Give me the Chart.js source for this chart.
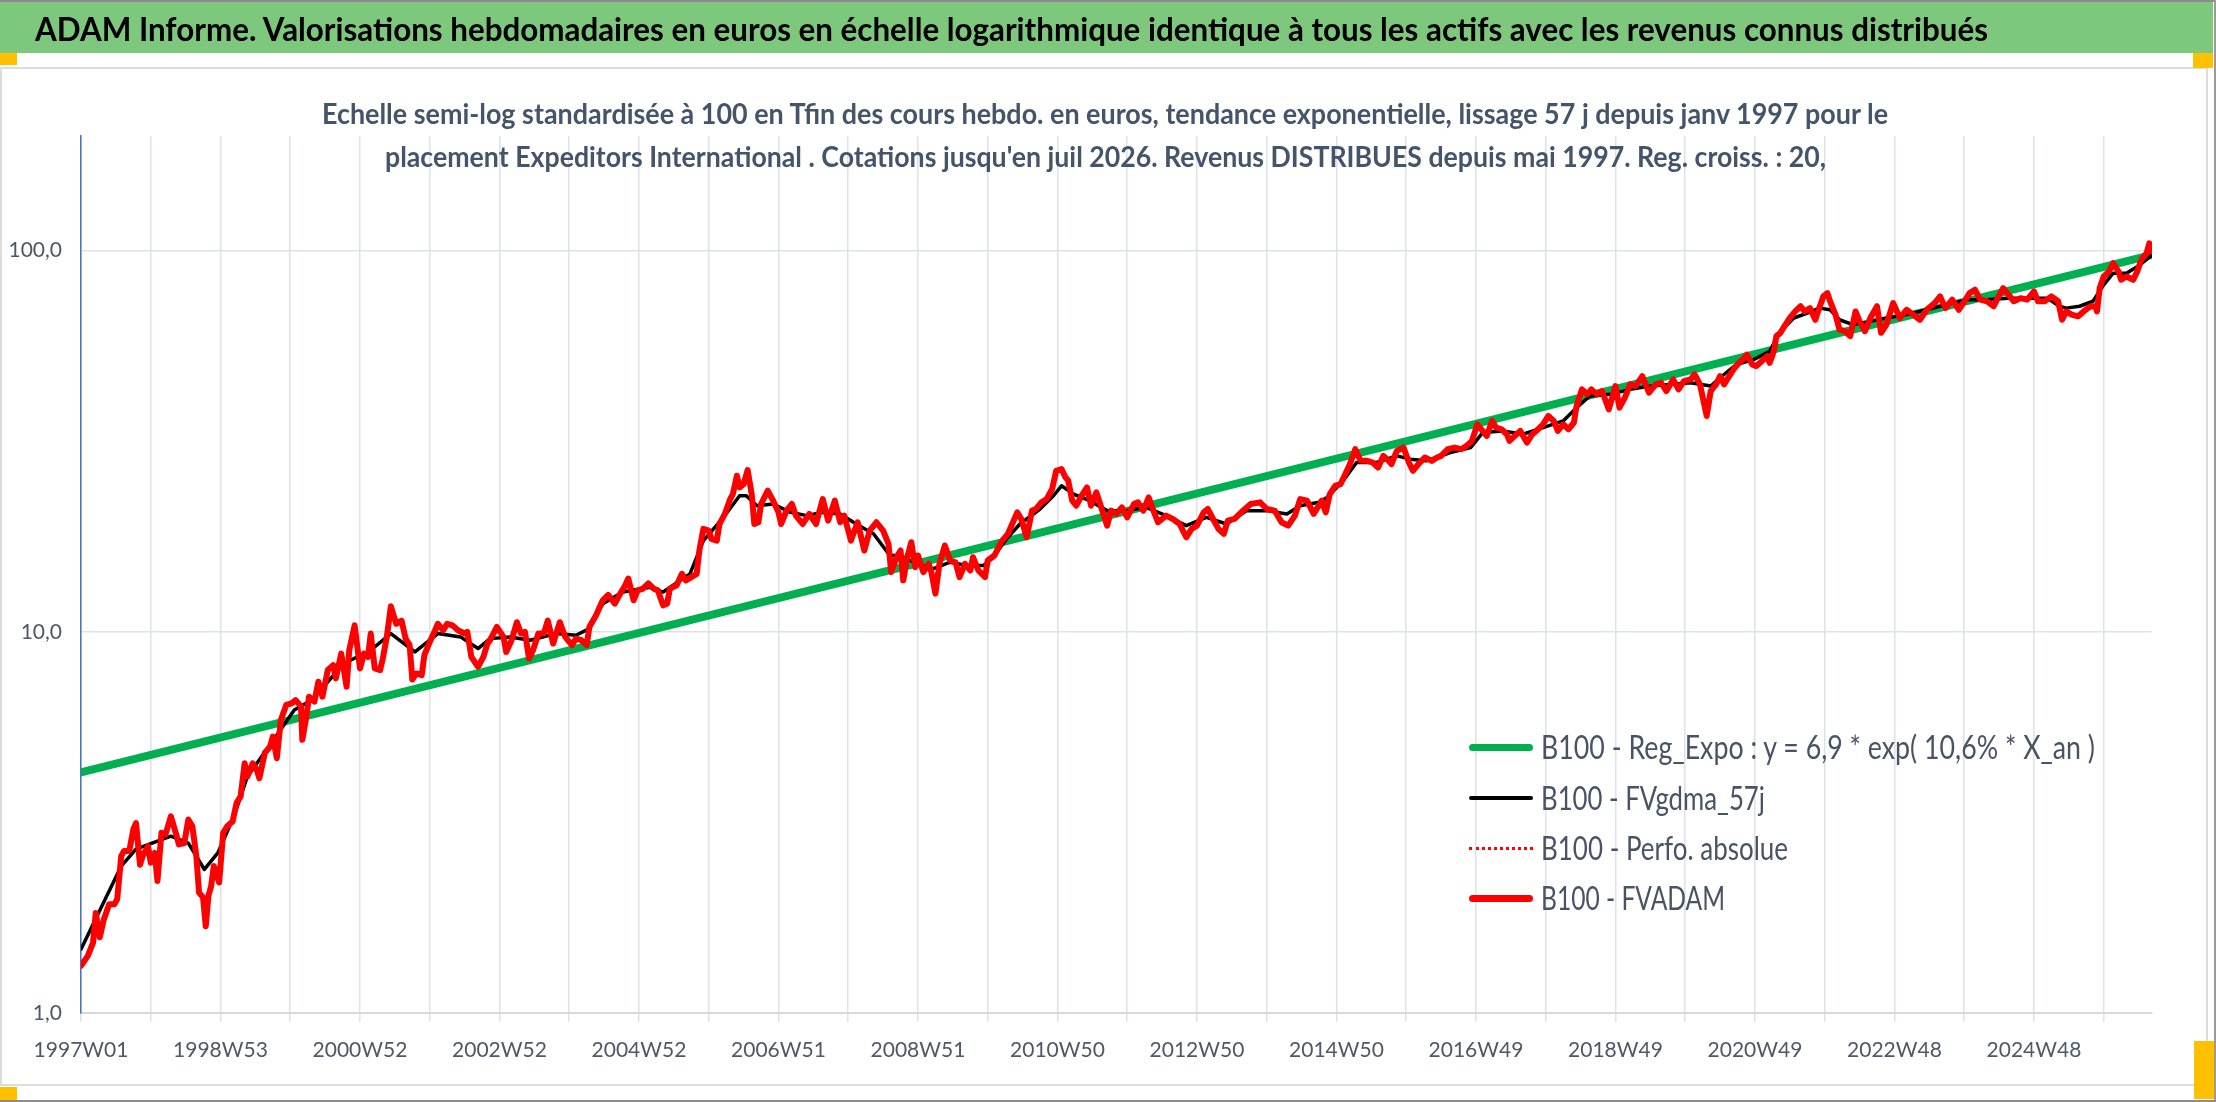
<!DOCTYPE html>
<html><head><meta charset="utf-8">
<script src="https://cdn.jsdelivr.net/npm/chart.js@4.4.1/dist/chart.umd.min.js"></script>
<style>
html,body{margin:0;padding:0;background:#fff;}
#page{position:relative;width:2216px;height:1102px;overflow:hidden;background:#fff;font-family:Lato,'Open Sans',sans-serif;}
.abs{position:absolute;}
#band{left:0;top:2px;width:2213px;height:51px;background:#7ec87e;}
#frame{left:0;top:67px;width:2208px;height:1019px;border:2px solid #dcdcdc;box-sizing:border-box;}
.fit{position:absolute;white-space:nowrap;transform-origin:left center;line-height:1;}
#title{font-weight:700;font-size:33px;color:#000;}
.sub{font-weight:700;font-size:29px;color:#44546a;}
.leg{font-size:32px;color:#485365;}
.sample{position:absolute;left:1469px;width:64px;}
.orange{position:absolute;background:#ffc000;}
canvas{position:absolute;left:0;top:0;}
</style></head>
<body>
<div id="page">
  <div class="abs" style="left:0;top:0;width:2216px;height:2px;background:#8c8c8c"></div>
  <div id="band" class="abs"></div>
  <div id="frame" class="abs"></div>
  <div class="abs" style="left:2214px;top:0;width:2px;height:1102px;background:#9a9a9a"></div>
  <div class="abs" style="left:0;top:1100px;width:2216px;height:2px;background:#8c8c8c"></div>
  <div class="orange" style="left:0;top:53px;width:17px;height:12px"></div>
  <div class="orange" style="left:2193px;top:53px;width:20px;height:15px"></div>
  <div class="orange" style="left:0;top:1087px;width:17px;height:13px"></div>
  <div class="orange" style="left:2194px;top:1041px;width:20px;height:58px"></div>
  <canvas id="c" width="2216" height="1102"></canvas>
  <span id="title" class="fit" data-l="35" data-w="1953" data-y="28">ADAM Informe. Valorisations hebdomadaires en euros en échelle logarithmique identique à tous les actifs avec les revenus connus distribués</span>
  <span class="fit sub" data-l="322" data-w="1566" data-y="112">Echelle semi-log standardisée à 100 en Tfin des cours hebdo. en euros, tendance exponentielle, lissage 57 j depuis janv 1997 pour le</span>
  <span class="fit sub" data-l="385" data-w="1441" data-y="155">placement Expeditors International . Cotations jusqu'en juil 2026. Revenus DISTRIBUES depuis mai 1997. Reg. croiss. : 20,</span>
  <div id="legend"></div>
</div>
<script>
// ---- data ----
const seriesNames = [
  "B100 - Reg_Expo : y = 6,9 * exp( 10,6% *  X_an )",
  "B100 - FVgdma_57j",
  "B100 - Perfo. absolue",
  "B100 - FVADAM"
];
const xTickLabels = ["1997W01","1998W53","2000W52","2002W52","2004W52","2006W51","2008W51","2010W50","2012W50","2014W50","2016W49","2018W49","2020W49","2022W48","2024W48"];
const yTickValues = [1, 10, 100];
const yTickLabels = ["1,0", "10,0", "100,0"];
const lastWeek = 1544;

const regWeeks = [0, 1544];
const regValues = [4.28, 97.5];

const fvadamWeeks = [0,5,9,11,14,17,21,25,27,30,32,36,39,41,44,46,50,52,55,57,60,63,67,71,73,77,80,83,86,88,91,93,95,97,99,103,106,109,113,116,119,122,124,128,131,133,137,141,143,146,149,153,157,160,164,165,168,170,174,177,180,184,188,190,194,198,200,204,208,211,214,216,219,223,225,228,231,235,239,242,245,247,250,254,256,260,264,266,270,273,277,281,286,288,291,296,300,303,
305,310,315,317,321,325,328,331,334,337,341,345,348,352,357,361,366,369,373,377,379,384,389,393,398,402,405,408,412,415,419,423,427,430,434,437,439,444,448,451,455,459,461,464,468,470,474,476,480,484,486,489,491,494,497,500,502,505,507,512,516,520,522,526,530,533,538,543,548,553,557,562,566,569,572,574,579,584,588,593,598,602,604,608,
611,613,616,619,622,624,628,632,634,637,640,644,648,652,655,659,663,665,669,674,676,681,686,691,698,701,705,709,712,716,720,724,727,731,734,736,739,742,746,750,753,757,761,765,768,772,776,780,785,788,792,796,799,803,809,814,819,824,828,832,837,840,844,848,852,855,860,865,872,879,884,890,895,900,905,909,914,919,
925,928,931,935,939,942,946,950,954,959,963,967,971,975,977,981,986,990,993,997,1002,1007,1011,1014,1019,1024,1029,1033,1037,1041,1045,1048,1052,1055,1059,1063,1065,1069,1073,1078,1082,1085,1090,1094,1098,1101,1105,1109,1113,1115,1119,1123,1126,1130,1134,1139,1144,1147,1151,1155,1159,1164,1169,1174,1178,1182,1187,1191,1195,1200,1203,1207,1212,1215,1219,
1222,1225,1228,1232,1236,1239,1242,1246,1249,1253,1257,1259,1262,1264,1267,1270,1274,1278,1282,1285,1289,1293,1295,1299,1302,1304,1308,1311,1315,1319,1323,1326,1330,1334,1339,1342,1346,1351,1356,1361,1366,1371,1376,1382,1386,1390,1395,1400,1405,1408,1412,1416,1421,1426,1429,1433,1437,1441,1446,1451,1456,1459,1464,1469,1474,1477,1480,1484,1489,1493,1498,1502,1503,1505,1508,1512,1515,1519,1521,1525,1530,1533,1536,1540,1542,1544];
const fvadamValues = [1.33,1.41,1.53,1.83,1.58,1.76,1.93,1.93,1.99,2.58,2.66,2.66,3.03,3.15,2.45,2.58,2.74,2.48,2.63,2.22,2.97,2.94,3.28,2.94,2.77,2.79,3.22,3.09,2.58,2.07,2.01,1.69,2.03,2.15,2.43,2.20,2.97,3.09,3.18,3.56,3.70,4.52,4.17,4.52,4.35,4.13,4.81,5.00,5.31,4.66,5.87,6.43,6.49,6.62,6.37,5.21,5.99,6.76,6.56,7.40,6.76,7.94,8.18,7.55,8.77,7.18,8.95,10.4,8.02,8.77,8.60,9.90,8.02,7.94,8.51,9.70,11.67,10.5,10.7,9.60,9.23,7.50,7.78,7.70,8.69,9.41,10.1,10.5,10.1,10.5,10.4,10.1,9.90,10.0,8.60,8.10,8.60,9.32,
9.51,10.3,9.70,8.86,9.51,10.6,9.90,10.0,8.51,8.95,9.90,9.90,10.7,9.32,10.6,9.70,9.23,9.60,9.51,9.23,10.3,11.05,12.1,12.5,11.86,12.6,13.1,13.8,12.1,12.85,12.98,13.4,12.98,12.85,11.74,11.86,12.98,13.24,14.2,13.65,13.92,14.2,16.35,18.63,18.44,17.53,17.36,19.19,20.39,22.31,22.99,25.68,23.93,24.42,26.57,22.99,19.19,19.39,21.65,23.46,22.09,20.59,19.19,20.80,21.65,20.18,19.19,20.39,19.19,22.31,19.58,22.09,19.39,20.18,18.44,17.36,19.39,16.35,18.44,19.39,18.44,17.02,14.35,15.70,
16.35,13.65,15.70,17.19,14.78,15.86,14.35,15.09,14.35,12.6,15.09,16.85,15.39,15.23,13.92,15.09,14.49,15.70,14.49,13.92,15.39,15.86,17.19,18.07,20.59,19.78,17.71,20.80,21.01,21.87,22.31,23.70,26.46,26.73,25.42,24.92,22.09,21.43,22.76,23.93,21.43,23.23,21.01,19.00,20.80,20.39,21.22,19.98,21.65,21.87,20.80,22.53,21.01,19.39,20.18,19.78,19.19,17.71,18.63,19.00,20.59,21.01,19.78,18.63,18.07,19.58,19.78,20.59,21.65,21.87,21.01,20.80,19.39,19.00,20.18,22.31,22.09,20.39,
22.09,20.59,22.99,24.17,24.42,25.68,27.54,30.15,28.10,28.10,27.82,26.99,28.96,28.10,27.54,29.85,30.45,27.82,26.46,27.54,28.68,28.10,28.68,28.96,30.15,30.45,30.15,30.76,31.70,35.04,33.67,32.67,35.76,34.36,34.01,33.00,31.70,32.67,33.67,31.38,33.00,33.67,35.04,36.85,35.76,33.67,35.04,34.01,35.40,39.14,43.27,42.00,43.27,42.00,42.84,38.36,44.15,38.74,41.16,44.59,44.15,46.88,42.41,44.59,45.04,42.84,45.95,43.27,45.50,45.95,47.35,44.59,36.85,42.84,44.59,
46.88,44.59,46.42,48.81,50.8,51.8,53.4,50.3,49.8,51.3,52.9,50.8,54.5,59.7,60.9,63.4,66.6,69.3,71.5,69.3,70.7,65.9,69.3,75.9,77.4,73.7,68.0,62.1,61.5,59.7,69.3,65.3,61.5,66.6,71.5,60.9,64.0,72.9,66.6,70.0,68.0,65.9,70.0,72.9,75.9,70.7,74.4,70.0,74.4,77.4,79.0,74.4,73.7,71.5,75.1,79.8,76.7,73.7,75.1,74.4,78.2,73.7,73.7,75.9,73.7,65.9,69.3,68.0,67.3,69.3,71.5,71.5,69.3,79.8,85.6,88.2,92.8,88.2,83.9,85.6,83.9,88.2,94.7,98.5,104.6,99.5];

const smoothWeeks = [0,30,41,67,80,92,102,114,124,147,159,172,196,216,231,249,266,283,296,305,320,335,354,369,379,389,404,424,434,454,464,479,491,496,504,516,529,541,553,566,578,591,603,611,623,635,648,660,673,680,690,700,715,725,731,740,752,765,780,794,809,824,839,854,869,884,899,909,923,929,941,951,966,981,991,1003,1021,1036,1045,1060,1075,1090,1105,1115,1125,1140,1155,1170,1185,1200,1215,1222,1234,1247,1259,1267,1277,1287,1296,1304,1311,1321,1334,1346,1361,1376,1391,1406,1421,1436,1451,1466,1475,1480,1490,1500,1508,1515,1525,1535,1544];
const smoothValues = [1.47,2.43,2.69,2.91,2.79,2.38,2.63,3.28,4.17,5.42,6.24,6.62,8.26,8.95,9.90,8.86,9.90,9.70,9.04,9.60,9.70,9.51,9.90,9.80,10.2,11.86,12.72,13.1,12.72,14.2,17.36,19.98,22.76,22.76,21.43,21.65,20.59,20.18,20.59,20.39,19.19,18.07,15.86,15.86,15.09,14.64,15.23,14.94,14.94,15.70,17.53,19.19,21.01,22.76,24.17,22.99,22.09,20.80,20.80,21.22,20.18,19.00,19.98,19.19,20.80,20.80,20.39,21.43,21.87,22.53,24.92,27.82,27.82,28.96,28.39,28.10,29.54,30.45,33.34,33.67,33.00,34.36,35.76,38.74,41.57,42.00,43.27,44.15,44.59,45.04,44.15,46.42,50.3,51.8,54.5,61.5,66.6,68.6,70.7,70.0,65.9,64.0,65.3,66.6,68.0,70.0,72.2,74.4,74.4,75.1,75.1,75.1,71.5,70.7,71.5,73.7,81.4,87.3,87.3,91.8,97.5];

// ---- helpers ----
const pts = (ws, vs) => ws.map((w, i) => ({x: w, y: vs[i]}));
const gridWeeks = [];
for (let w = 0; w < lastWeek; w += 52) gridWeeks.push(w);

const tickFont = {family: 'Lato', size: 21};
const TXT = '#4f5866';
const chart = new Chart(document.getElementById('c'), {
  type: 'line',
  data: {
    datasets: [
      {label: seriesNames[0], data: pts(regWeeks, regValues), borderColor: '#00b050', borderWidth: 8, order: 4},
      {label: seriesNames[1], data: pts(smoothWeeks, smoothValues), borderColor: '#000000', borderWidth: 3.5, order: 3},
      {label: seriesNames[2], data: pts(fvadamWeeks, fvadamValues), borderColor: '#ff0000', borderWidth: 1.5, borderDash: [2, 2], order: 2},
      {label: seriesNames[3], data: pts(fvadamWeeks, fvadamValues), borderColor: '#ff0000', borderWidth: 6, order: 1}
    ]
  },
  options: {
    responsive: false, animation: false, devicePixelRatio: 1,
    elements: {point: {radius: 0}, line: {tension: 0, borderJoinStyle: 'round', borderCapStyle: 'round', fill: false}},
    layout: {padding: {left: 0, right: 64, top: 136, bottom: 0}},
    plugins: {legend: {display: false}, title: {display: false}, tooltip: {enabled: false}},
    scales: {
      x: {
        type: 'linear', min: 0, max: lastWeek,
        afterBuildTicks: s => { s.ticks = gridWeeks.map(v => ({value: v})); },
        afterFit: s => { s.height = 89; },
        ticks: {autoSkip: false, maxRotation: 0, minRotation: 0, padding: 16, color: TXT,
          font: tickFont,
          callback: v => (v % 104 === 0 && xTickLabels[v / 104]) ? xTickLabels[v / 104] : ''},
        grid: {color: '#dde1e9', lineWidth: 1.5, tickLength: 9, drawTicks: true},
        border: {color: '#d9d9d9', width: 2}
      },
      y: {
        type: 'logarithmic', min: 1, max: 200,
        afterBuildTicks: s => { s.ticks = yTickValues.map(v => ({value: v})); },
        afterFit: s => { s.width = 81; },
        ticks: {padding: 19, color: TXT, font: tickFont,
          callback: v => { const i = yTickValues.indexOf(v); return i >= 0 ? yTickLabels[i] : ''; }},
        grid: {color: '#dde1e9', lineWidth: 1.5, drawTicks: false},
        border: {color: '#4472c4', width: 1.5}
      }
    }
  }
});

// ---- HTML legend built from datasets ----
const legendRowsY = [747, 798, 848, 898];
const legendWidths = [554, 224, 247, 184];
const leg = document.getElementById('legend');
[0, 1, 2, 3].forEach((di, r) => {
  const ds = chart.data.datasets[di];
  const s = document.createElement('div');
  s.className = 'sample';
  const y = legendRowsY[r];
  if (ds.borderDash) {
    s.style.cssText += `top:${y - 1}px;height:0;border-top:3px dotted ${ds.borderColor};`;
  } else {
    const h = ds.borderWidth >= 6 ? 7 : 4;
    s.style.cssText += `top:${y - h / 2}px;height:${h}px;background:${ds.borderColor};border-radius:${h / 2}px;`;
  }
  leg.appendChild(s);
  const t = document.createElement('span');
  t.className = 'fit leg';
  t.textContent = ds.label;
  t.dataset.l = 1541; t.dataset.w = legendWidths[r]; t.dataset.y = y;
  leg.appendChild(t);
});

function fitTexts() {
  document.querySelectorAll('.fit').forEach(el => {
    el.style.transform = 'none';
    const r = el.getBoundingClientRect();
    el.style.left = el.dataset.l + 'px';
    el.style.top = (+el.dataset.y - r.height / 2) + 'px';
    el.style.transform = `scaleX(${(+el.dataset.w) / r.width})`;
  });
}
fitTexts();
if (document.fonts && document.fonts.ready) document.fonts.ready.then(fitTexts);
</script>
</body></html>
